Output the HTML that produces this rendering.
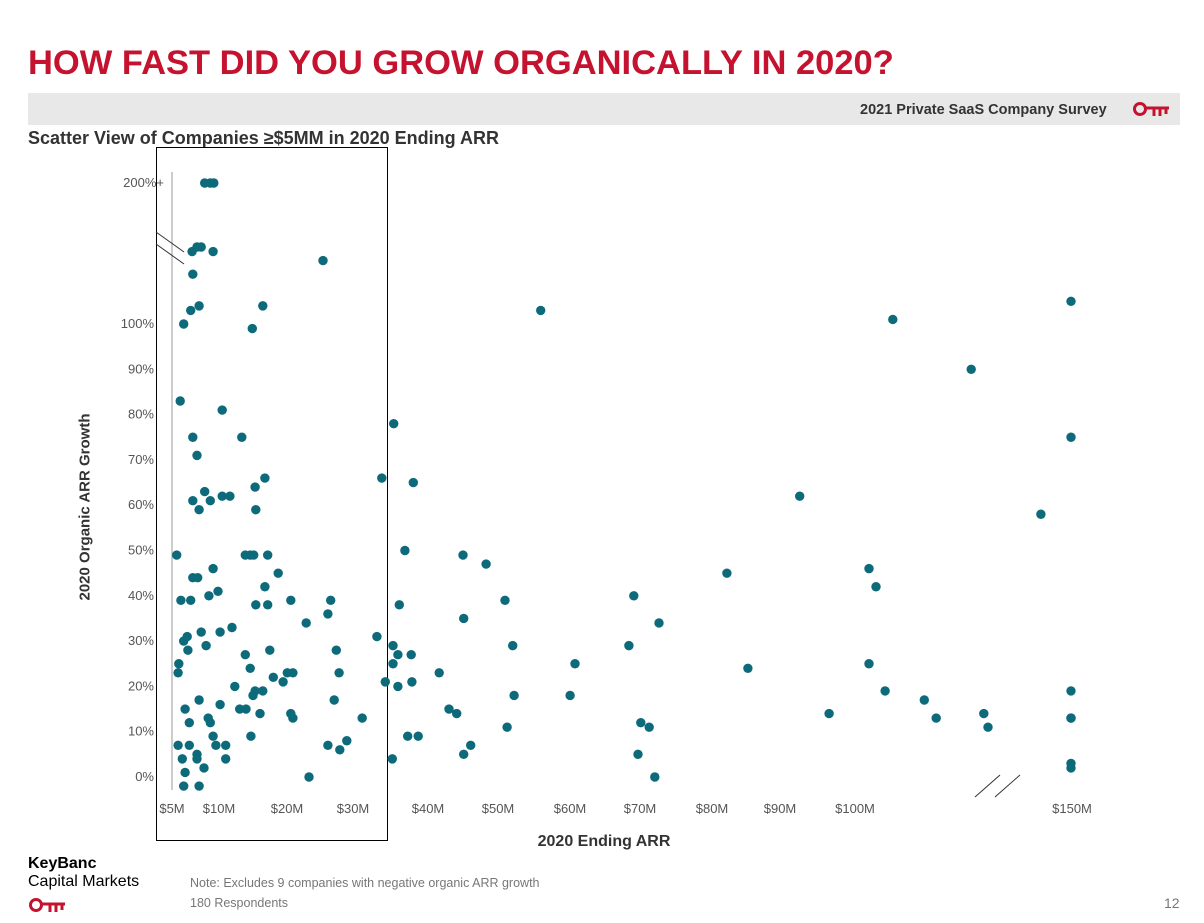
<!DOCTYPE html>
<html><head><meta charset="utf-8">
<style>
body{margin:0;width:1204px;height:923px;background:#fff;font-family:"Liberation Sans",Arial,sans-serif;position:relative;overflow:hidden}
.abs{position:absolute}
</style></head><body>
<div class="abs" style="left:28px;top:44px;font-size:34.5px;font-weight:bold;color:#c4122f">HOW FAST DID YOU GROW ORGANICALLY IN 2020?</div>
<div class="abs" style="left:28px;top:93px;width:1152px;height:32px;background:#e8e8e8"></div>
<div class="abs" style="left:860px;top:102px;font-size:14.5px;font-weight:bold;color:#333">2021 Private SaaS Company Survey</div>
<svg class="abs" style="left:1132px;top:101px" width="40" height="18"><circle cx="8" cy="8" r="5.5" fill="none" stroke="#c4122f" stroke-width="3"/><path d="M13 7h24M22 7v8M28 7v8M34 7v6" stroke="#c4122f" stroke-width="3" fill="none"/></svg>
<div class="abs" style="left:28px;top:128px;font-size:18px;font-weight:bold;color:#333">Scatter View of Companies ≥$5MM in 2020 Ending ARR</div>
<div class="abs" style="left:156px;top:147px;width:230px;height:692px;border:1.5px solid #000"></div>
<svg id="chart" class="abs" style="left:0;top:0" width="1204" height="923"></svg>
<div class="abs" style="left:85px;top:507px;transform:translate(-50%,-50%) rotate(-90deg);font-size:15px;font-weight:bold;color:#333;white-space:nowrap">2020 Organic ARR Growth</div>
<div class="abs" style="left:604px;top:833px;transform:translateX(-50%);font-size:16px;font-weight:bold;color:#333">2020 Ending ARR</div>
<div class="abs" style="left:28px;top:855px;font-size:16px;color:#000;line-height:18px"><b>KeyBanc</b><br>Capital Markets</div>
<svg class="abs" style="left:28px;top:897px" width="40" height="18"><circle cx="8" cy="8" r="5.5" fill="none" stroke="#c4122f" stroke-width="3"/><path d="M13 7h24M22 7v8M28 7v8M34 7v6" stroke="#c4122f" stroke-width="3" fill="none"/></svg>
<div class="abs" style="left:190px;top:876px;font-size:12.5px;color:#777">Note: Excludes 9 companies with negative organic ARR growth</div>
<div class="abs" style="left:190px;top:896px;font-size:12.5px;color:#777">180 Respondents</div>
<div class="abs" style="left:1164px;top:895px;font-size:14px;color:#777">12</div>
<script>
const xs=[8.1,8.9,9.4,6.3,7.0,7.6,9.3,6.4,25,6.1,7.3,16.4,5.1,14.9,56.1,106.4,150,117.6,4.6,10.6,35.1,6.4,13.4,150,7,33.4,37.9,16.7,8.1,6.4,7.3,8.9,10.6,11.7,15.3,15.4,93.1,145.7,4.1,13.9,14.6,15.1,17.1,36.7,45,48.3,9.3,7.1,6.4,18.6,82.7,103,104,16.7,8.7,10,4.7,6.1,15.4,17.1,20.4,26.1,35.9,45.1,51,69.4,25.7,22.6,73,12,10.3,8.3,5.6,5.1,5.7,7.6,32.7,35,35.7,26.9,52.1,68.7,61,13.9,17.4,14.6,4.4,4.3,19.9,20.7,27.3,35,103,17.9,37.6,33.9,35.7,37.7,41.6,85.7,12.4,15.3,15,16.4,19.3,10.3,7.3,26.6,5.3,13.1,14,16,52.3,60.3,105.3,110.9,112.6,119.4,120,150,150,150,30.6,8.6,8.9,5.9,14.7,20.7,20.4,43,44.1,51.3,70.4,71.6,97.3,9.3,4.3,4.9,5.9,7,9.7,11.1,11.1,8,5.3,7,25.7,27.4,28.4,37.1,38.6,34.9,46.1,45.1,70,72.4,23,5.1,7.3,150,150];
const ys=[200,200,200,116,117,117,116,111,114,103,104,104,100,99,103,101,105,90,83,81,78,75,75,75,71,66,65,66,63,61,59,61,62,62,64,59,62,58,49,49,49,49,49,50,49,47,46,44,44,45,45,46,42,42,40,41,39,39,38,38,39,39,38,35,39,40,36,34,34,33,32,29,31,30,28,32,31,29,27,28,29,29,25,27,28,24,25,23,23,23,23,25,25,22,27,21,20,21,23,24,20,19,18,19,21,16,17,17,15,15,15,14,18,18,19,17,13,14,11,19,13,13,13,13,12,12,9,13,14,15,14,11,12,11,14,9,7,4,7,5,7,7,4,2,1,4,7,6,8,9,9,4,7,5,5,0,0,-2,-2,3,2];
const yTicks=[0,10,20,30,40,50,60,70,80,90,100];
const xTickVals=[5,10,20,30,40,50,60,70,80,90,100,150];
const xTickLabels=["$5M","$10M","$20M","$30M","$40M","$50M","$60M","$70M","$80M","$90M","$100M","$150M"];
const xLabelPos=[172,219,287,353,428,498,570,640,712,780,855,1072];
function X(v){return v>125?1071+(v-150)*7:218+(v-10)*7;}
function Y(v){return v>=150?183:777-v*4.53;}
const svg=document.getElementById('chart');const NS='http://www.w3.org/2000/svg';
function mk(t,a){const e=document.createElementNS(NS,t);for(const k in a)e.setAttribute(k,a[k]);svg.appendChild(e);return e;}
let ax=mk('line',{x1:172,y1:172,x2:172,y2:790,stroke:'#bbb','stroke-width':1.5});

let br=mk('path',{d:'M156 232L184 252M156 244L184 264',stroke:'#333','stroke-width':1,fill:'none'});

let bx=mk('path',{d:'M975 797L1000 775M995 797L1020 775',stroke:'#333','stroke-width':1,fill:'none'});

yTicks.forEach(v=>{const t=mk('text',{x:154,y:Y(v)+4,'text-anchor':'end','font-size':13,fill:'#555','font-family':'Liberation Sans'});t.textContent=v+'%';
});
const t2=mk('text',{x:164,y:Y(200)+4,'text-anchor':'end','font-size':13,fill:'#555','font-family':'Liberation Sans'});t2.textContent='200%+';

xTickLabels.forEach((l,i)=>{const t=mk('text',{x:xLabelPos[i],y:813,'text-anchor':'middle','font-size':13,fill:'#555','font-family':'Liberation Sans'});t.textContent=l;
});
xs.forEach((v,i)=>{const c=mk('circle',{cx:X(v),cy:Y(ys[i]),r:4.7,fill:'#0d6a7a'});
});
</script>
</body></html>
